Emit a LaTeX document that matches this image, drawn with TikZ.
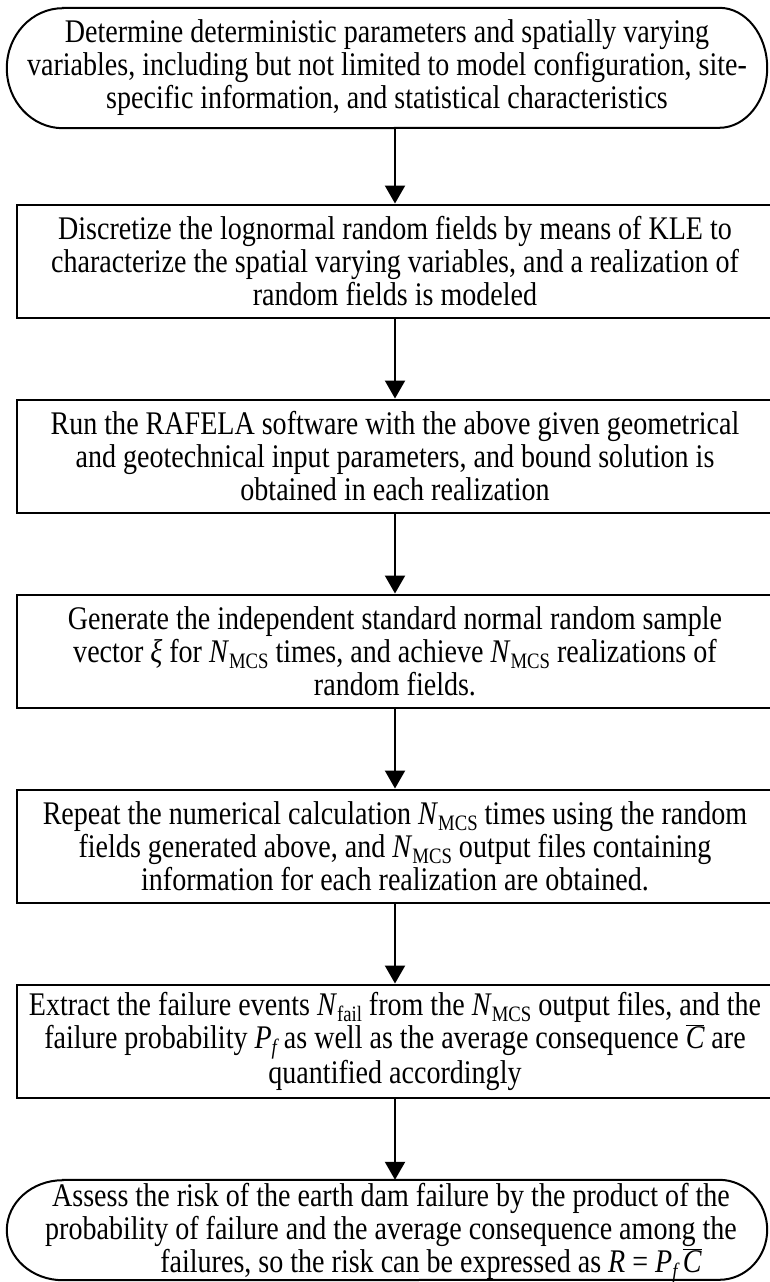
\documentclass[tikz,border=0pt]{standalone}
\usepackage{fontspec}
\setmainfont[FakeStretch=0.85]{Liberation Serif}
\usetikzlibrary{arrows.meta}
\newcommand{\subtxt}[1]{\raisebox{-0.18em}{\fontsize{22}{22}\selectfont #1}}
\newcommand{\Nmcs}{\textit{N}\subtxt{MCS}}
\newcommand{\Cbar}{$\overline{\hbox{\itshape C}}$}
\tikzset{
  txt/.style={font=\fontsize{33}{33}\selectfont, align=center, inner sep=0pt},
  procbox/.style={txt, draw, line width=2pt, minimum width=756pt, minimum height=113pt},
  termnode/.style={txt, minimum width=760pt, minimum height=120pt},
  termline/.style={line width=2pt},
  arr/.style={line width=2.2pt, -{Triangle[length=18pt,width=20pt]}}
}
\begin{document}
\begin{tikzpicture}[x=1pt,y=-1pt]
\useasboundingbox (0,0) rectangle (769,1282);
\fill[white] (0,0) rectangle (769,1282);

\node[termnode] (t1) at (387,68) {Determine deterministic parameters and spatially varying\\variables, including but not limited to model configuration, site-\\specific information, and statistical characteristics};
\draw[termline] ([xshift=56pt]t1.north west) -- ([xshift=-48pt]t1.north east)
  arc[start angle=90, end angle=-90, x radius=48pt, y radius=60pt]
  -- ([xshift=56pt]t1.south west)
  arc[start angle=270, end angle=90, x radius=56pt, y radius=60pt] -- cycle;

\node[procbox] (b2) at (395,261) {Discretize the lognormal random fields by means of KLE to\\characterize the spatial varying variables, and a realization of\\random fields is modeled};
\node[procbox] (b3) at (395,456) {Run the RAFELA software with the above given geometrical\\and geotechnical input parameters, and bound solution is\\obtained in each realization};
\node[procbox] (b4) at (395,651) {Generate the independent standard normal random sample\\vector \textit{ξ} for \Nmcs{} times, and achieve \Nmcs{} realizations of\\random fields.};
\node[procbox] (b5) at (395,846) {Repeat the numerical calculation \Nmcs{} times using the random\\fields generated above, and \Nmcs{} output files containing\\information for each realization are obtained.};
\node[procbox] (b6) at (395,1041) {Extract the failure events \textit{N}\subtxt{fail} from the \Nmcs{} output files, and the\\failure probability \textit{P}\subtxt{\itshape f} as well as the average consequence \Cbar{} are\\quantified accordingly};

\node[termnode, minimum height=100pt] (t7) at (387,1230) {};
\node[txt] (t7text) at (391,1233) {Assess the risk of the earth dam failure by the product of the\\probability of failure and the average consequence among the\\\hspace*{80pt}failures, so the risk can be expressed as \textit{R} = \textit{P}\subtxt{\itshape f}\,\Cbar};
\draw[termline] ([xshift=56pt]t7.north west) -- ([xshift=-48pt]t7.north east)
  arc[start angle=90, end angle=-90, x radius=48pt, y radius=50pt]
  -- ([xshift=56pt]t7.south west)
  arc[start angle=270, end angle=90, x radius=56pt, y radius=50pt] -- cycle;

\draw[arr] (t1.south -| b2.north) -- (b2.north);
\draw[arr] (b2.south) -- (b3.north);
\draw[arr] (b3.south) -- (b4.north);
\draw[arr] (b4.south) -- (b5.north);
\draw[arr] (b5.south) -- (b6.north);
\draw[arr] (b6.south) -- (t7.north -| b6.south);
\end{tikzpicture}
\end{document}
